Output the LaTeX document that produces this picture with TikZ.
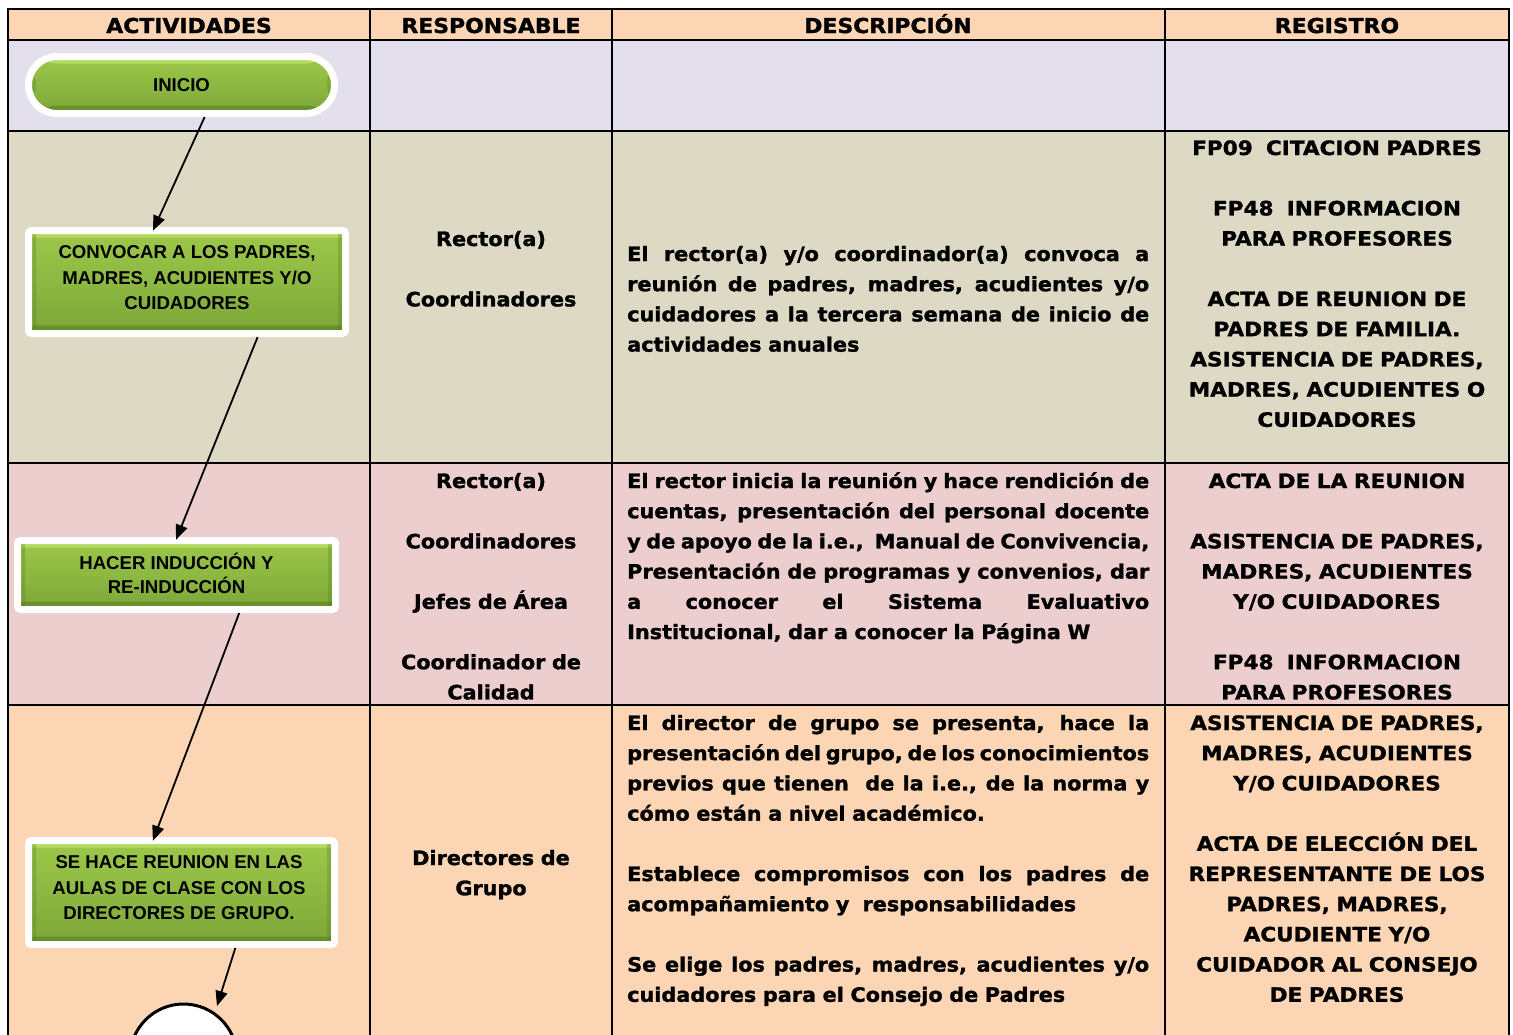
\documentclass[tikz,border=0pt]{standalone}
\usepackage{fontspec}
\setmainfont{DejaVu Sans}
\newfontfamily\boxfont{Liberation Sans}
\newfontfamily\hfont{DejaVu Sans}[FakeStretch=1.07, BoldFeatures={FakeBold=1.4}]
\newfontfamily\tfont{DejaVu Sans}[FakeStretch=1.05, BoldFeatures={FakeBold=1.4}]
\newfontfamily\rfont{DejaVu Sans}[FakeStretch=1.09, BoldFeatures={FakeBold=1.4}]
\newfontfamily\dfont{DejaVu Sans}[FakeStretch=1.05, WordSpace=0.8, BoldFeatures={FakeBold=1.4}]
\usetikzlibrary{arrows.meta,calc,shadows}
\definecolor{hdr}{HTML}{FCD5B4}
\definecolor{rowA}{HTML}{E4DFEC}
\definecolor{rowB}{HTML}{DDD9C4}
\definecolor{rowC}{HTML}{EDCECE}
\definecolor{rowD}{HTML}{FCD6B4}
\definecolor{gTop}{HTML}{9DC84A}
\definecolor{gMid}{HTML}{8DB841}
\definecolor{gBot}{HTML}{7CA637}
\definecolor{gEdge}{HTML}{557D20}
\definecolor{gLight}{HTML}{B4DA62}
\newlength\dw \setlength\dw{522pt}
\newcommand\jl[1]{\leavevmode\hbox to\dw{\spaceskip=0.28em plus 1fil minus 0.1em\xspaceskip=\spaceskip #1}}
\begin{document}
\begin{tikzpicture}[x=1pt,y=-1pt,
  gbox/.style={draw=white, line width=7pt, top color=gTop, bottom color=gBot, middle color=gMid,
    rounded corners=3pt, inner sep=0pt,
    drop shadow={shadow xshift=2pt,shadow yshift=-3pt,opacity=0.3},
    path picture={
      \fill[gLight] (path picture bounding box.north west) rectangle ($(path picture bounding box.north east)+(0,7)$);
      \fill[gEdge,opacity=0.55] ($(path picture bounding box.south west)+(0,-8)$) rectangle (path picture bounding box.south east);
      \fill[gEdge,opacity=0.3] (path picture bounding box.north west) rectangle ($(path picture bounding box.south west)+(7.5,0)$);
      \fill[gEdge,opacity=0.3] ($(path picture bounding box.north east)+(-7.5,0)$) rectangle (path picture bounding box.south east);}},
  btext/.style={font=\boxfont\fontsize{18.6}{25.5}\selectfont\bfseries, align=center, inner sep=0pt, text=black},
  hd/.style={font=\hfont\fontsize{20.5}{24}\selectfont\bfseries, inner sep=0pt, anchor=base},
  tcell/.style={font=\tfont\fontsize{19.8}{30.2}\selectfont\bfseries, inner sep=0pt, align=center, anchor=base},
  rcell/.style={font=\rfont\fontsize{19.8}{30.2}\selectfont\bfseries, inner sep=0pt, align=center, anchor=base, text width=340pt},
  dcell/.style={font=\dfont\fontsize{19.8}{30.2}\selectfont\bfseries, inner sep=0pt, align=left, text width=\dw, anchor=base west},
  arr/.style={line width=1.8pt, -{Triangle[length=15pt,width=12pt]}},
  grid/.style={line width=2pt, black}]
\useasboundingbox (0,0) rectangle (1513,1034);
% row fills
\fill[hdr]  (8,9) rectangle (1509,40);
\fill[rowA] (8,40) rectangle (1509,131);
\fill[rowB] (8,131) rectangle (1509,463);
\fill[rowC] (8,463) rectangle (1509,705);
\fill[rowD] (8,705) rectangle (1509,1040);
% grid
\draw[grid] (8,9) -- (1509,9);
\draw[grid] (8,40) -- (1509,40);
\draw[grid] (8,131) -- (1509,131);
\draw[grid] (8,463) -- (1509,463);
\draw[grid] (8,705) -- (1509,705);
\foreach \xx in {8,370,612,1165,1509} {\draw[grid] (\xx,8) -- (\xx,1040);}
% headers
\node[hd] (h1) at (189,33) {ACTIVIDADES};
\node[hd] (h2) at (491,33) {RESPONSABLE};
\node[hd] (h3) at (888,33) {DESCRIPCIÓN};
\node[hd] (h4) at (1337,33) {REGISTRO};
% flow shapes
\node[gbox, rounded corners=28.5pt, minimum width=306pt, minimum height=57pt] (inicio) at (181.5,85) {};
\node[btext] (inicioT) at (181.5,85) {INICIO};
\node[gbox, minimum width=317pt, minimum height=103pt] (convocar) at (187,282) {};
\node[btext] (convocarT) at (187,278) {CONVOCAR A LOS PADRES,\\MADRES, ACUDIENTES Y/O\\CUIDADORES};
\node[gbox, minimum width=318pt, minimum height=69pt] (hacer) at (176.5,575) {};
\node[btext, font=\boxfont\fontsize{18.6}{24}\selectfont\bfseries] (hacerT) at (176.5,573) {HACER INDUCCIÓN Y\\RE-INDUCCIÓN};
\node[gbox, minimum width=306pt, minimum height=104pt] (sehace) at (181.5,892.5) {};
\node[btext] (sehaceT) at (179,888) {SE HACE REUNION EN LAS\\AULAS DE CLASE CON LOS\\DIRECTORES DE GRUPO.};
\node[circle, draw=black, line width=3pt, fill=white, minimum size=107pt, inner sep=0pt] (circ) at (183.5,1057.5) {};
% connectors
\draw[arr, shorten >=-4pt] ($(inicio.south west)!0.574!(inicio.south east)$) -- ($(convocar.north west)!0.40!(convocar.north east)$);
\draw[arr, shorten >=-3pt] ($(convocar.south west)!0.718!(convocar.south east)$) -- ($(hacer.north west)!0.502!(hacer.north east)$);
\draw[arr, shorten >=-4pt] ($(hacer.south west)!0.693!(hacer.south east)$) -- ($(sehace.north west)!0.413!(sehace.north east)$);
\coordinate (circEnd) at ($(circ.center)+(33.5,-51.5)$);
\draw[arr] ($(sehace.south west)!0.672!(sehace.south east)$) -- (circEnd);
% responsable
\node[tcell, text width=232pt] (r1) at (491,246) {Rector(a)\\[30.2pt]Coordinadores};
\node[tcell, text width=232pt] (r2) at (491,488) {Rector(a)\\[30.2pt]Coordinadores\\[30.2pt]Jefes de Área\\[30.2pt]Coordinador de\\Calidad};
\node[tcell, text width=232pt] (r3) at (491,865) {Directores de\\Grupo};
% descripcion
\node[dcell] (d1) at (627,261) {\jl{El rector(a) y/o coordinador(a) convoca a}\\\jl{reunión de padres, madres, acudientes y/o}\\\jl{cuidadores a la tercera semana de inicio de}\\actividades anuales};
\node[dcell] (d2) at (627,488) {\jl{El rector inicia la reunión y hace rendición de}\\\jl{cuentas, presentación del personal docente}\\\jl{y de apoyo de la i.e.,\ \ Manual de Convivencia,}\\\jl{Presentación de programas y convenios, dar}\\\jl{a conocer el Sistema Evaluativo}\\Institucional, dar a conocer la Página W};
\node[dcell] (d3) at (627,730) {\jl{El director de grupo se presenta, hace la}\\\jl{presentación del grupo, de los conocimientos}\\\jl{previos que tienen\ \ de la i.e., de la norma y}\\cómo están a nivel académico.\\[30.2pt]\jl{Establece compromisos con los padres de}\\acompañamiento y~~responsabilidades\\[30.2pt]\jl{Se elige los padres, madres, acudientes y/o}\\cuidadores para el Consejo de Padres};
% registro
\node[rcell] (g1) at (1337,155) {FP09~~CITACION PADRES\\[30.2pt]FP48~~INFORMACION\\PARA PROFESORES\\[30.2pt]ACTA DE REUNION DE\\PADRES DE FAMILIA.\\ASISTENCIA DE PADRES,\\MADRES, ACUDIENTES O\\CUIDADORES};
\node[rcell] (g2) at (1337,488) {ACTA DE LA REUNION\\[30.2pt]ASISTENCIA DE PADRES,\\MADRES, ACUDIENTES\\Y/O CUIDADORES\\[30.2pt]FP48~~INFORMACION\\PARA PROFESORES};
\node[rcell] (g3) at (1337,730) {ASISTENCIA DE PADRES,\\MADRES, ACUDIENTES\\Y/O CUIDADORES\\[30.2pt]ACTA DE ELECCIÓN DEL\\REPRESENTANTE DE LOS\\PADRES, MADRES,\\ACUDIENTE Y/O\\CUIDADOR AL CONSEJO\\DE PADRES};
\end{tikzpicture}
\end{document}
